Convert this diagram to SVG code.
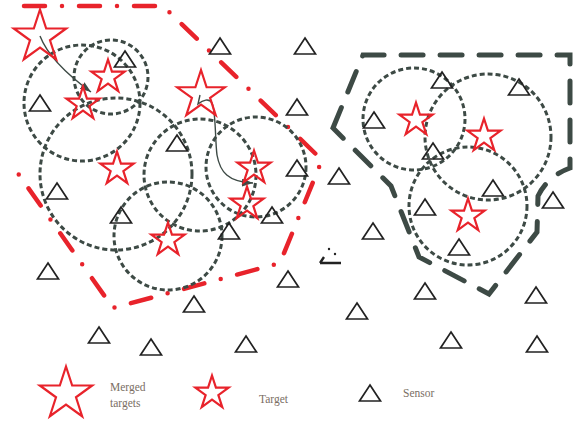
<svg xmlns="http://www.w3.org/2000/svg" xmlns:xlink="http://www.w3.org/1999/xlink" width="576" height="422" viewBox="0 0 576 422">
<style>
.cov{fill:none;stroke:#3d4a45;stroke-width:3;stroke-dasharray:5 3}
.st{fill:none;stroke:#e8232b;stroke-width:2.2;stroke-linejoin:miter}
.tr{fill:none;stroke:#222;stroke-width:1.7}
.red{fill:none;stroke:#e8232b;stroke-width:4.5;stroke-linecap:round;stroke-dasharray:21 17 0 17}
.gry{fill:none;stroke:#3d4a45;stroke-width:5;stroke-linecap:round;stroke-dasharray:22 17}
.arr{fill:none;stroke:#3d4a45;stroke-width:1.4}
.lbl{font-family:"Liberation Serif","Times New Roman",serif;font-size:11.5px;fill:#7a6e64}
</style>
<defs>
<path id="sb" d="M0,-27.5 L6.17,-8.5 L26.16,-8.5 L9.99,3.25 L16.16,22.25 L0,10.51 L-16.16,22.25 L-9.99,3.25 L-26.16,-8.5 L-6.17,-8.5 Z"/>
<path id="sm" d="M0,-25 L5.61,-7.73 L23.78,-7.73 L9.08,2.95 L14.7,20.23 L0,9.55 L-14.7,20.23 L-9.08,2.95 L-23.78,-7.73 L-5.61,-7.73 Z"/>
<path id="ss" d="M0,-17.5 L3.93,-5.41 L16.64,-5.41 L6.36,2.07 L10.29,14.16 L0,6.69 L-10.29,14.16 L-6.36,2.07 L-16.64,-5.41 L-3.93,-5.41 Z"/>
<path id="tri" d="M0,0 L10.5,16 L-10.5,16 Z"/>
<marker id="ah" markerUnits="userSpaceOnUse" markerWidth="12" markerHeight="9" refX="11" refY="4" orient="auto">
<path d="M0,0 L11,4 L0,8 Z" fill="#3d4a45"/>
</marker>
</defs>

<!-- region boundaries -->
<g id="regions">
<polyline class="red" points="24,6 163,6 322,160 280,263 113,308 17,172"/>
<path class="gry" d="M333,128 L363,55 L570,55 L570,168 Q548,176 538,196 L537,232 L489,294 L419,257 L391,186 Z"/>
</g>

<!-- coverage circles -->
<g id="coverage">
<circle class="cov" cx="82" cy="103" r="58"/>
<circle class="cov" cx="111" cy="77" r="37"/>
<circle class="cov" cx="116" cy="174" r="76"/>
<circle class="cov" cx="200" cy="175" r="56"/>
<circle class="cov" cx="256" cy="167" r="50"/>
<circle class="cov" cx="168" cy="236" r="54"/>
<circle class="cov" cx="414" cy="119" r="51"/>
<circle class="cov" cx="488" cy="137" r="63"/>
<circle class="cov" cx="468" cy="206" r="59"/>
</g>

<!-- connectors -->
<g id="connectors">
<path class="arr" marker-end="url(#ah)" d="M40,36 Q50,62 91,92"/>
<path class="arr" marker-end="url(#ah)" d="M200,95 L198,104 C203,100 209,98 212,103 C216,112 215,140 217,155 C220,172 228,182 253,183"/>
</g>

<!-- merged targets -->
<g id="merged1"><use href="#sb" class="st" x="40" y="37"/></g>
<g id="merged2"><use href="#sm" class="st" x="201" y="95"/></g>

<!-- targets -->
<g id="target1"><use href="#ss" class="st" x="108" y="77"/></g>
<g id="target2"><use href="#ss" class="st" x="83" y="104"/></g>
<g id="target3"><use href="#ss" class="st" x="117" y="169"/></g>
<g id="target4"><use href="#ss" class="st" x="168" y="240"/></g>
<g id="target5"><use href="#ss" class="st" x="254" y="168"/></g>
<g id="target6"><use href="#ss" class="st" x="247" y="204"/></g>
<g id="target7"><use href="#ss" class="st" x="416" y="120"/></g>
<g id="target8"><use href="#ss" class="st" x="484" y="136"/></g>
<g id="target9"><use href="#ss" class="st" x="468" y="216"/></g>

<!-- sensors -->
<g id="sensor1"><use href="#tri" class="tr" x="125" y="51"/></g>
<g id="sensor2"><use href="#tri" class="tr" x="40" y="95"/></g>
<g id="sensor3"><use href="#tri" class="tr" x="220" y="38"/></g>
<g id="sensor4"><use href="#tri" class="tr" x="305" y="38"/></g>
<g id="sensor5"><use href="#tri" class="tr" x="297" y="99"/></g>
<g id="sensor6"><use href="#tri" class="tr" x="177" y="135"/></g>
<g id="sensor7"><use href="#tri" class="tr" x="297" y="160"/></g>
<g id="sensor8"><use href="#tri" class="tr" x="272" y="207"/></g>
<g id="sensor9"><use href="#tri" class="tr" x="229" y="223"/></g>
<g id="sensor10"><use href="#tri" class="tr" x="288" y="271"/></g>
<g id="sensor11"><use href="#tri" class="tr" x="194" y="296"/></g>
<g id="sensor12"><use href="#tri" class="tr" x="57" y="183"/></g>
<g id="sensor13"><use href="#tri" class="tr" x="121" y="207"/></g>
<g id="sensor14"><use href="#tri" class="tr" x="48" y="263"/></g>
<g id="sensor15"><use href="#tri" class="tr" x="99" y="327"/></g>
<g id="sensor16"><use href="#tri" class="tr" x="151" y="339"/></g>
<g id="sensor17"><use href="#tri" class="tr" x="246" y="336"/></g>
<g id="sensor18"><use href="#tri" class="tr" x="442" y="72"/></g>
<g id="sensor19"><use href="#tri" class="tr" x="519" y="79"/></g>
<g id="sensor20"><use href="#tri" class="tr" x="374" y="112"/></g>
<g id="sensor21"><use href="#tri" class="tr" x="433" y="143"/></g>
<g id="sensor22"><use href="#tri" class="tr" x="339" y="168"/></g>
<g id="sensor23"><use href="#tri" class="tr" x="493" y="180"/></g>
<g id="sensor24"><use href="#tri" class="tr" x="553" y="192"/></g>
<g id="sensor25"><use href="#tri" class="tr" x="425" y="199"/></g>
<g id="sensor26"><use href="#tri" class="tr" x="373" y="223"/></g>
<g id="sensor27"><use href="#tri" class="tr" x="459" y="239"/></g>
<g id="sensor28"><use href="#tri" class="tr" x="425" y="283"/></g>
<g id="sensor29"><use href="#tri" class="tr" x="536" y="287"/></g>
<g id="sensor30"><use href="#tri" class="tr" x="357" y="303"/></g>
<g id="sensor31"><use href="#tri" class="tr" x="451" y="332"/></g>
<g id="sensor32"><use href="#tri" class="tr" x="537" y="336"/></g>
<g id="sensor-fragment">
<path d="M320,263 L341,263 M320,263 L324,257" fill="none" stroke="#222" stroke-width="2.4"/>
<circle cx="329" cy="249" r="1.2" fill="#222"/>
<circle cx="335" cy="254" r="1.2" fill="#222"/>
</g>

<!-- legend -->
<g id="legend">
<use href="#sb" class="st" x="66" y="394"/>
<text class="lbl" x="110" y="391">Merged</text>
<text class="lbl" x="110" y="407">targets</text>
<use href="#ss" class="st" x="212" y="393"/>
<text class="lbl" x="259" y="403">Target</text>
<use href="#tri" class="tr" x="370" y="385"/>
<text class="lbl" x="403" y="397">Sensor</text>
</g>
</svg>
